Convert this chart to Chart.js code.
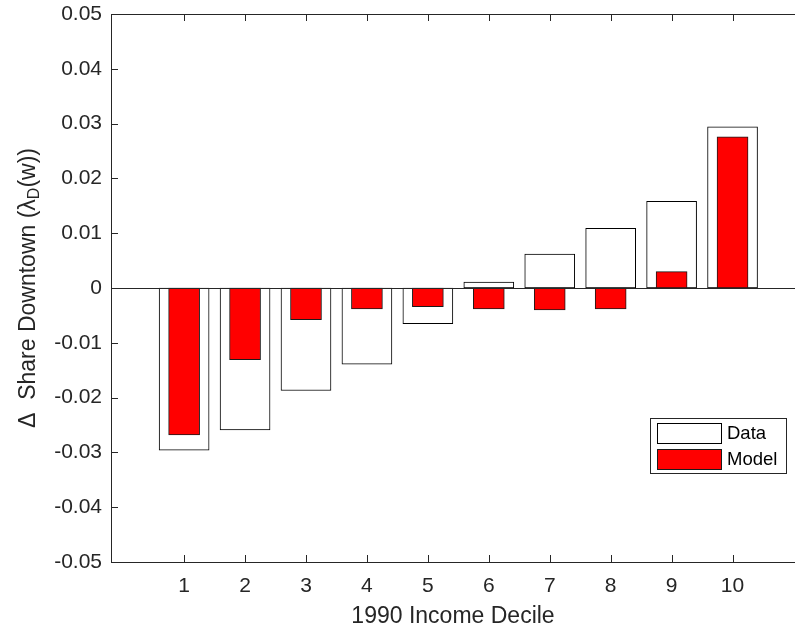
<!DOCTYPE html>
<html><head><meta charset="utf-8">
<script src="https://cdn.jsdelivr.net/npm/chart.js@4.4.1/dist/chart.umd.min.js"></script>
<style>html,body{margin:0;padding:0;background:#fff}#wrap{width:795px;height:630px}</style>
</head><body><div id="wrap"><canvas id="c" width="795" height="630"></canvas></div>
<script>
// ---- data ----
const deciles = [1, 2, 3, 4, 5, 6, 7, 8, 9, 10];
const dataValues  = [-0.0296, -0.0259, -0.0187, -0.0139, -0.0065, 0.0011, 0.0062, 0.0109, 0.0158, 0.0294];
const modelValues = [-0.0268, -0.0131, -0.0058, -0.0038, -0.0034, -0.0038, -0.0040, -0.0038, 0.0030, 0.0276];
const yTickValues = [-0.05, -0.04, -0.03, -0.02, -0.01, 0, 0.01, 0.02, 0.03, 0.04, 0.05];
const xTickValues = [1, 2, 3, 4, 5, 6, 7, 8, 9, 10];
const seriesNames = ['Data', 'Model'];
const xTitle = '1990 Income Decile';

const FONT = "'Liberation Sans', Arial, Helvetica, sans-serif";
const AX = '#262626';

function fmtY(v) {
  if (Math.abs(v) < 1e-9) return '0';
  return v.toFixed(2);
}

const axesPlugin = {
  id: 'matlabAxes',
  afterDatasetsDraw(chart) {
    const {ctx, chartArea: a, scales: {x, y}} = chart;
    ctx.save();
    ctx.strokeStyle = AX;
    ctx.lineWidth = 1;
    ctx.beginPath();
    ctx.moveTo(a.left + 0.5, a.top + 0.5); ctx.lineTo(a.left + 0.5, a.bottom + 0.5);
    ctx.moveTo(a.left, a.top + 0.5); ctx.lineTo(a.right, a.top + 0.5);
    ctx.moveTo(a.left, a.bottom + 0.5); ctx.lineTo(a.right, a.bottom + 0.5);
    const y0 = Math.round(y.getPixelForValue(0)) + 0.5;
    ctx.moveTo(a.left, y0); ctx.lineTo(a.right, y0);
    yTickValues.forEach(v => {
      const py = Math.round(y.getPixelForValue(v)) + 0.5;
      ctx.moveTo(a.left, py); ctx.lineTo(a.left + 7, py);
    });
    xTickValues.forEach(v => {
      const px = Math.round(x.getPixelForValue(v)) + 0.5;
      ctx.moveTo(px, a.bottom); ctx.lineTo(px, a.bottom - 7);
      ctx.moveTo(px, a.top); ctx.lineTo(px, a.top + 7);
    });
    ctx.stroke();
    ctx.restore();
  },
  afterDraw(chart) {
    const {ctx, chartArea: a, data} = chart;
    ctx.save();
    const fs = 23, fsSub = 16;
    const parts = [
      {t: '\u0394  Share Downtown (\u03bb', f: fs, dy: 0},
      {t: 'D', f: fsSub, dy: 6},
      {t: '(w))', f: fs, dy: 0}
    ];
    let total = 0;
    parts.forEach(p => { ctx.font = p.f + 'px ' + FONT; p.w = ctx.measureText(p.t).width; total += p.w; });
    ctx.translate(29, (a.top + a.bottom) / 2);
    ctx.rotate(-Math.PI / 2);
    ctx.fillStyle = AX;
    ctx.textBaseline = 'middle';
    ctx.textAlign = 'left';
    let cx = -total / 2;
    parts.forEach(p => { ctx.font = p.f + 'px ' + FONT; ctx.fillText(p.t, cx, p.dy); cx += p.w; });
    ctx.restore();

    ctx.save();
    const bx = 650.5, by = 418.5, bw = 136, bh = 55;
    ctx.fillStyle = '#fff';
    ctx.fillRect(bx, by, bw, bh);
    ctx.strokeStyle = AX;
    ctx.lineWidth = 1;
    ctx.strokeRect(bx, by, bw, bh);
    ctx.font = '18.5px ' + FONT;
    ctx.textBaseline = 'middle';
    ctx.textAlign = 'left';
    data.datasets.forEach((ds, i) => {
      const sy = 423.5 + i * 26;
      ctx.fillStyle = ds.backgroundColor;
      ctx.fillRect(657.5, sy, 64, 20);
      ctx.strokeStyle = ds.borderColor;
      ctx.strokeRect(657.5, sy, 64, 20);
      ctx.fillStyle = '#000';
      ctx.fillText(ds.label, 727, sy + 10.5);
    });
    ctx.restore();
  }
};

new Chart(document.getElementById('c'), {
  type: 'bar',
  data: {
    labels: deciles,
    datasets: [
      {
        label: seriesNames[0],
        data: deciles.map((d, i) => ({x: d, y: dataValues[i]})),
        backgroundColor: '#ffffff',
        borderColor: '#000000',
        borderWidth: 1,
        borderSkipped: false,
        barThickness: 50,
        grouped: false,
        order: 2
      },
      {
        label: seriesNames[1],
        data: deciles.map((d, i) => ({x: d, y: modelValues[i]})),
        backgroundColor: '#ff0000',
        borderColor: '#1a1a1a',
        borderWidth: 1,
        borderSkipped: false,
        barThickness: 31,
        grouped: false,
        order: 1
      }
    ]
  },
  options: {
    responsive: false,
    animation: false,
    devicePixelRatio: 1,
    layout: {padding: {top: 14, left: 0, right: 0, bottom: 0}},
    plugins: {legend: {display: false}, tooltip: {enabled: false}},
    scales: {
      x: {
        type: 'linear',
        offset: false,
        min: -0.2,
        max: 11.025,
        afterBuildTicks(s) { s.ticks = xTickValues.map(v => ({value: v})); },
        afterFit(s) { s.height = 68; s.paddingLeft = 0; s.paddingRight = 0; },
        grid: {display: false, drawTicks: false},
        border: {display: false},
        ticks: {
          color: AX,
          font: {family: FONT, size: 21},
          padding: 12,
          maxRotation: 0,
          autoSkip: false,
          callback: v => String(v)
        },
        title: {
          display: true,
          text: xTitle,
          color: AX,
          font: {family: FONT, size: 23},
          padding: {top: 0, bottom: 0}
        }
      },
      y: {
        min: -0.05,
        max: 0.05,
        afterBuildTicks(s) { s.ticks = yTickValues.map(v => ({value: v})); },
        afterFit(s) { s.width = 111; s.paddingTop = 0; s.paddingBottom = 0; },
        grid: {display: false, drawTicks: false},
        border: {display: false},
        ticks: {
          color: AX,
          font: {family: FONT, size: 21},
          padding: 9,
          callback: v => fmtY(v)
        }
      }
    }
  },
  plugins: [axesPlugin]
});
</script>
</body></html>
